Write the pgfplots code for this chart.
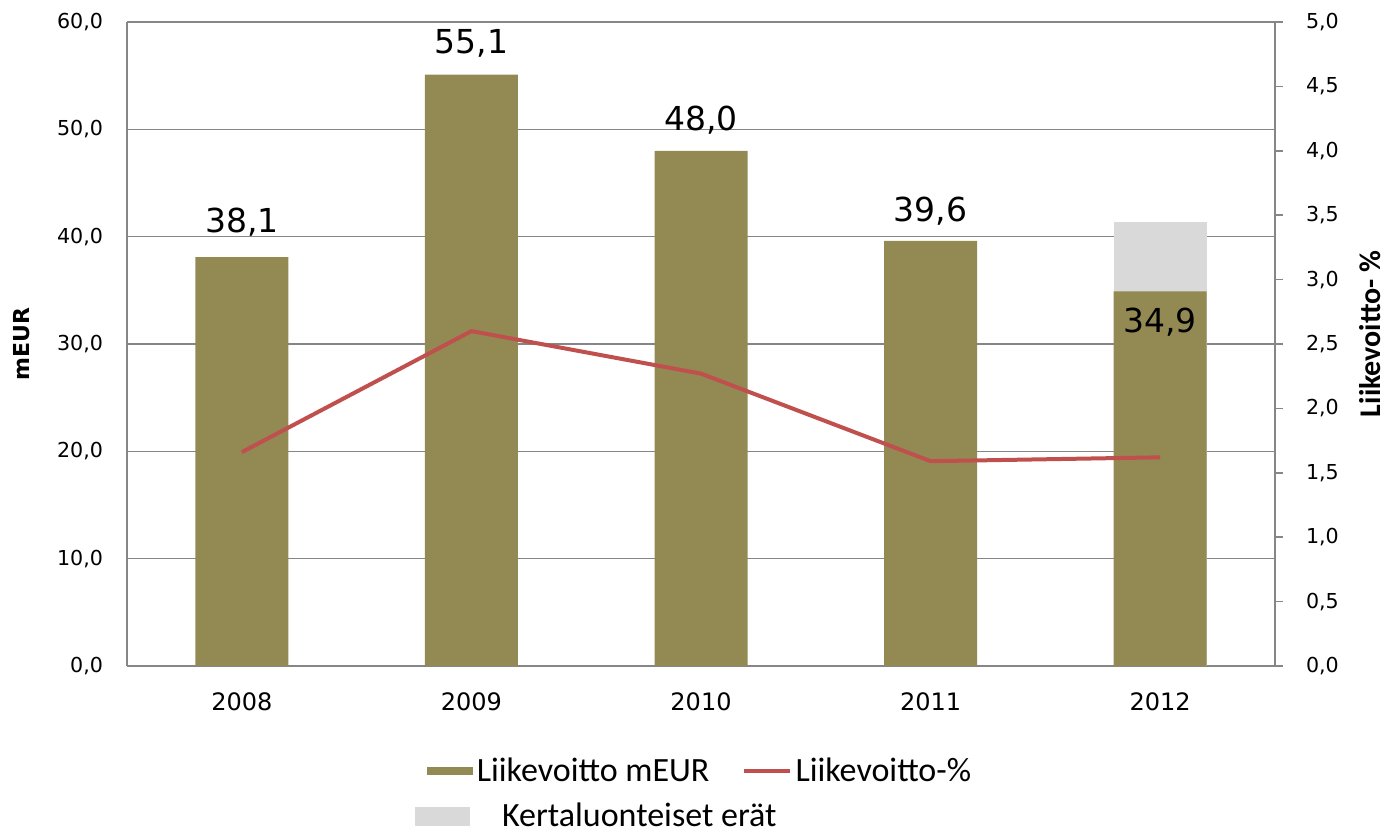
\documentclass[border=0pt]{standalone}
\usepackage{fontspec}
\setmainfont{Carlito}
\newfontfamily\dv{DejaVu Sans}
\usepackage{pgfplots}
\usepackage{pgfplotstable}
\pgfplotsset{compat=1.18}
\definecolor{olivebar}{HTML}{938953}
\definecolor{graybar}{HTML}{D9D9D9}
\definecolor{redline}{HTML}{C0504D}
\definecolor{axgray}{HTML}{868686}

% operating profit, mEUR; dy = label offset in pt
\pgfplotstableread{
x y dy
0 38.1 17.5
1 55.1 15.5
2 48.0 15.5
3 39.6 15
4 34.9 -15.5
}\opdata

% 2012 incl. one-off items (34.9 + 6.5)
\pgfplotstableread{
x y
4 41.4
}\kertadata

\pgfplotstableread{
x y
0 1.66
1 2.60
2 2.27
3 1.59
4 1.62
}\pctdata

\begin{document}
\begin{tikzpicture}
\begin{axis}[
  name=ax,
  scale only axis, width=574pt, height=322pt,
  xmin=-0.5, xmax=4.5, ymin=0, ymax=60,
  ybar, bar width=0.405,
  xtick={0,1,2,3,4}, xticklabels={2008,2009,2010,2011,2012},
  ytick={0,10,...,60},
  axis x line*=bottom, axis y line*=left,
  axis line style={axgray, line width=0.8pt},
  ymajorgrids, grid style={axgray, line width=0.8pt},
  major tick length=0pt,
  x tick label style={font=\dv\fontsize{12}{14}\selectfont, text=black, yshift=-10pt},
  y tick label style={font=\dv\fontsize{10.3}{12}\selectfont, text=black, xshift=-8.5pt,
    /pgf/number format/.cd, fixed, fixed zerofill, precision=1, use comma},
  /pgf/number format/assume math mode=true,
  ylabel={\dv\bfseries\fontsize{11}{13}\selectfont mEUR},
  ylabel style={at={(axis description cs:-0.0915,0.5)}, anchor=center, rotate=0},
  legend columns=2,
  legend style={draw=none, fill=none, at={(0.5,-0.13)}, anchor=north,
    font=\fontsize{17}{19}\selectfont, /tikz/every even column/.append style={column sep=14pt}},
]
\addplot[fill=graybar, draw=none, bar shift=0pt, forget plot] table[x=x, y=y] {\kertadata};
\addplot[fill=olivebar, draw=none, bar shift=0pt,
  nodes near coords,
  visualization depends on={\thisrow{dy} \as \dy},
  every node near coord/.append style={anchor=center, yshift=\dy pt, text=black,
    font=\dv\fontsize{16.5}{18}\selectfont,
    /pgf/number format/.cd, fixed, fixed zerofill, precision=1, use comma},
  legend image code/.code={\fill[olivebar] (0pt,-2pt) rectangle (23pt,2pt);}
] table[x=x, y=y] {\opdata};
\addlegendentry{Liikevoitto mEUR}
\addlegendimage{legend image code/.code={\draw[redline, line width=2pt] (0pt,0pt) -- (23pt,0pt);}}
\addlegendentry{Liikevoitto-\%}
\end{axis}

\begin{axis}[
  scale only axis, width=574pt, height=322pt,
  xmin=-0.5, xmax=4.5, ymin=0, ymax=5,
  axis y line*=right, axis x line=none,
  axis line style={axgray, line width=0.8pt},
  ytick={0,0.5,...,5},
  tick align=outside, major tick length=4pt,
  tick style={axgray, line width=0.8pt},
  y tick label style={font=\dv\fontsize{10.3}{12}\selectfont, text=black, xshift=8pt,
    /pgf/number format/.cd, fixed, fixed zerofill, precision=1, use comma},
  /pgf/number format/assume math mode=true,
  ylabel={\bfseries\fontsize{15}{17}\selectfont Liikevoitto- \%},
  ylabel style={at={(axis description cs:1.0828,0.516)}, anchor=center, rotate=0},
  legend style={draw=none, fill=none, at={(0.249,-0.203)}, anchor=north west,
    font=\fontsize{17}{19}\selectfont, inner sep=1pt},
]
\addlegendimage{legend image code/.code={\fill[graybar] (0pt,-4.5pt) rectangle (27pt,4.5pt);}}
\addlegendentry{\hspace{14pt}Kertaluonteiset erät}
\addplot[redline, line width=2pt] table[x=x, y=y] {\pctdata};
\end{axis}
\pgfresetboundingbox
\path (ax.south west) ++(-63.5pt,-85.5pt) rectangle ([shift={(56.5pt,11pt)}]ax.north east);
\end{tikzpicture}
\end{document}
